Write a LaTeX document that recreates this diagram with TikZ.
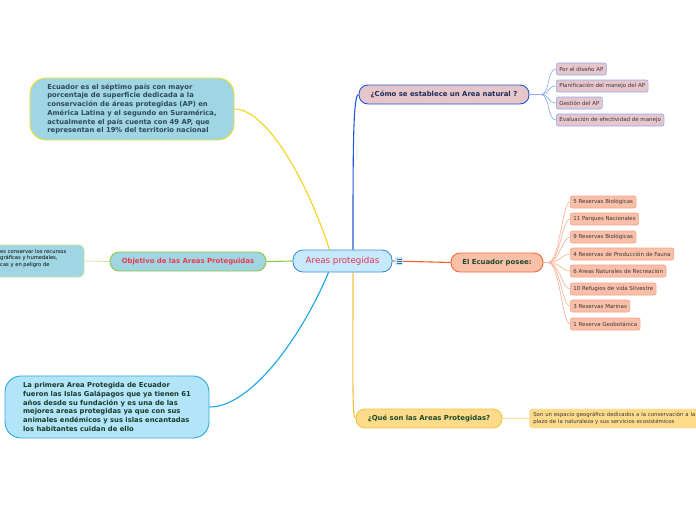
\documentclass[tikz,border=0pt]{standalone}
\usepackage{fontspec}
\setmainfont{DejaVu Sans}
\usetikzlibrary{backgrounds}
\definecolor{cenfill}{HTML}{C6EAFB}
\definecolor{cenbord}{HTML}{3D8FD6}
\definecolor{redtxt}{HTML}{E8304A}
\definecolor{pinkf}{HTML}{E6C5CB}
\definecolor{cmbord}{HTML}{2257D5}
\definecolor{cmsub}{HTML}{8DAEF0}
\definecolor{navy}{HTML}{1C2D5A}
\definecolor{subtxt}{HTML}{3A3A3A}
\definecolor{salf}{HTML}{F9BFA9}
\definecolor{ecbord}{HTML}{F26C3E}
\definecolor{ecline}{HTML}{F25A2A}
\definecolor{ecsub}{HTML}{F5A48A}
\definecolor{ecsubl}{HTML}{F8B79E}
\definecolor{dgreen}{HTML}{1C4A2A}
\definecolor{yelf}{HTML}{FDDB8B}
\definecolor{qsbord}{HTML}{F7C23F}
\definecolor{qsline}{HTML}{F9C23C}
\definecolor{qssub}{HTML}{FCE2A0}
\definecolor{tealf}{HTML}{A0D6E4}
\definecolor{grnbord}{HTML}{8DC63F}
\definecolor{lgrn}{HTML}{C6E59A}
\definecolor{objred}{HTML}{F0384E}
\definecolor{tlbord}{HTML}{F2DC2E}
\definecolor{tltxt}{HTML}{2F4858}
\definecolor{blf}{HTML}{B3E5F9}
\definecolor{blbord}{HTML}{2AA8E2}
\definecolor{blline}{HTML}{1AA3E6}
\definecolor{bltxt}{HTML}{1A3A2A}
\definecolor{yelline}{HTML}{F2D41E}
\definecolor{icondark}{HTML}{4A6A8A}
\begin{document}
\begin{tikzpicture}[x=1pt,y=-1pt,
  topic/.style={draw, rounded corners=9pt, line width=0.9pt, inner sep=0pt, font=\fontsize{6.9}{8}\selectfont\bfseries},
  subbox/.style={draw, rounded corners=2pt, line width=0.6pt, anchor=west, inner xsep=3pt, inner ysep=0pt, minimum height=12pt, font=\fontsize{5.5}{6}\selectfont, text=subtxt},
  bigbox/.style={draw, rounded corners=16pt, line width=0.9pt, align=left, minimum width=204pt, minimum height=62pt, inner sep=0pt, font=\fontsize{6.8}{8.7}\selectfont\bfseries},
  mainline/.style={line width=1.1pt},
  subline/.style={line width=0.7pt}]
\path[use as bounding box] (0,0) rectangle (696,520);
\clip (0,0) rectangle (696,520);

% central
\node[draw=cenbord, fill=cenfill, text=redtxt, rounded corners=10pt, line width=0.9pt,
  minimum width=99pt, minimum height=22pt, inner sep=0pt, font=\fontsize{8.7}{10}\selectfont] (c) at (342.5,261) {Areas protegidas};
\node[fill=cenfill, rounded corners=1pt, minimum size=8pt, inner sep=0pt] (ic) at (399,261) {};
\foreach \d in {-2,0,2}
  \draw[icondark, line width=0.6pt] ([xshift=-2.5pt,yshift=\d pt]ic.center) -- ([xshift=2.5pt,yshift=\d pt]ic.center);

% Como se establece
\node[topic, fill=pinkf, draw=cmbord, text=navy, minimum width=170pt, minimum height=19pt] (cm) at (444,94.5) {¿Cómo se establece un Area natural ?};
\node[subbox, fill=pinkf, draw=cmsub] (cm1) at (556,69) {Por el diseño AP};
\node[subbox, fill=pinkf, draw=cmsub] (cm2) at (556,86) {Planificación del manejo del AP};
\node[subbox, fill=pinkf, draw=cmsub] (cm3) at (556,103) {Gestión del AP};
\node[subbox, fill=pinkf, draw=cmsub] (cm4) at (556,120) {Evaluación de efectividad de manejo};
\coordinate (cmh) at (541,94.5);

% El Ecuador posee
\node[topic, fill=salf, draw=ecbord, text=dgreen, minimum width=92pt, minimum height=19pt] (ec) at (497,262.5) {El Ecuador posee:};
\node[subbox, fill=salf, draw=ecsub] (e1) at (570,202) {5 Reservas Biológicas};
\node[subbox, fill=salf, draw=ecsub] (e2) at (570,219) {11 Parques Nacionales};
\node[subbox, fill=salf, draw=ecsub] (e3) at (570,237) {9 Reservas Biológicas};
\node[subbox, fill=salf, draw=ecsub] (e4) at (570,254) {4 Reservas de Producción de Fauna};
\node[subbox, fill=salf, draw=ecsub] (e5) at (570,271) {6 Areas Naturales de Recreación};
\node[subbox, fill=salf, draw=ecsub] (e6) at (570,289) {10 Refugios de vida Silvestre};
\node[subbox, fill=salf, draw=ecsub] (e7) at (570,306) {3 Reservas Marinas};
\node[subbox, fill=salf, draw=ecsub] (e8) at (570,324) {1 Reserva Geobotánica};
\coordinate (ech) at (548,262.5);

% Que son
\node[topic, fill=yelf, draw=qsbord, text=dgreen, minimum width=146pt, minimum height=19pt] (qs) at (429,418.5) {¿Qué son las Areas Protegidas?};
\node[draw=qssub, fill=yelf, rounded corners=3pt, line width=0.6pt, anchor=west, text width=182pt, align=left,
  inner xsep=4pt, inner ysep=2.5pt, minimum height=19pt, font=\fontsize{5.4}{7}\selectfont, text=subtxt] (qc) at (529,418.5)
  {Son un espacio geográfico dedicados a la conservación a la\\plazo de la naturaleza y sus servicios ecosistémicos};

% Objetivo
\node[topic, fill=tealf, draw=grnbord, text=objred, minimum width=156pt, minimum height=19pt] (ob) at (188,261.5) {Objetivo de las Areas Proteguidas};
\node[draw=lgrn, fill=tealf, rounded corners=5pt, line width=0.8pt, minimum width=124pt, minimum height=32pt] (ol) at (22,261) {};
\node[anchor=west, align=left, inner sep=0pt, font=\fontsize{5.2}{6.6}\selectfont, text=black] (olt) at (0,258.5)
  {es conservar los recursos\\gráficas y humedales,\\cas y en peligro de};

% big boxes
\node[bigbox, fill=tealf, draw=tlbord, text=tltxt] (tl) at (132,109)
  {Ecuador es el séptimo país con mayor\\porcentaje de superficie dedicada a la\\conservación de áreas protegidas (AP) en\\América Latina y el segundo en Suramérica,\\actualmente el país cuenta con 49 AP, que\\representan el 19\% del territorio nacional};
\node[bigbox, fill=blf, draw=blbord, text=bltxt] (bl) at (107,407)
  {La primera Area Protegida de Ecuador\\fueron las Islas Galápagos que ya tienen 61\\años desde su fundación y es una de las\\mejores areas protegidas ya que con sus\\animales endémicos y sus islas encantadas\\los habitantes cuidan de ello};

\begin{scope}[on background layer]
\draw[yelline, mainline] ([xshift=-13pt]c.north) .. controls (305,175) and (265,109) .. (tl.east);
\draw[cmbord, mainline] ([xshift=10.5pt]c.north) .. controls (353,150) and (353,94.5) .. (cm.west);
\draw[blline, mainline] ([xshift=-14pt]c.south) .. controls (300,340) and (250,407) .. (bl.east);
\draw[qsline, mainline] ([xshift=10.5pt]c.south) .. controls (353,380) and (352,418.5) .. (qs.west);
\draw[ecline, mainline] (c.east) -- (ec.west);
\draw[grnbord, mainline] (c.west) -- (ob.east);
\draw[lgrn, subline] (ob.west) -- (ol.east);
\draw[qssub, subline] (qs.east) -- (qc.west);
\draw[cmsub, subline] (cm.east) -- (cmh);
\foreach \n in {cm1,cm2,cm3,cm4}
  \draw[cmsub, subline] (cmh) .. controls +(9,0) and +(-9,0) .. (\n.west);
\draw[ecsubl, subline] (ec.east) -- (ech);
\foreach \n in {e1,e2,e3,e4,e5,e6,e7,e8}
  \draw[ecsubl, subline] (ech) .. controls +(12,0) and +(-8,0) .. (\n.west);
\end{scope}
\end{tikzpicture}
\end{document}
